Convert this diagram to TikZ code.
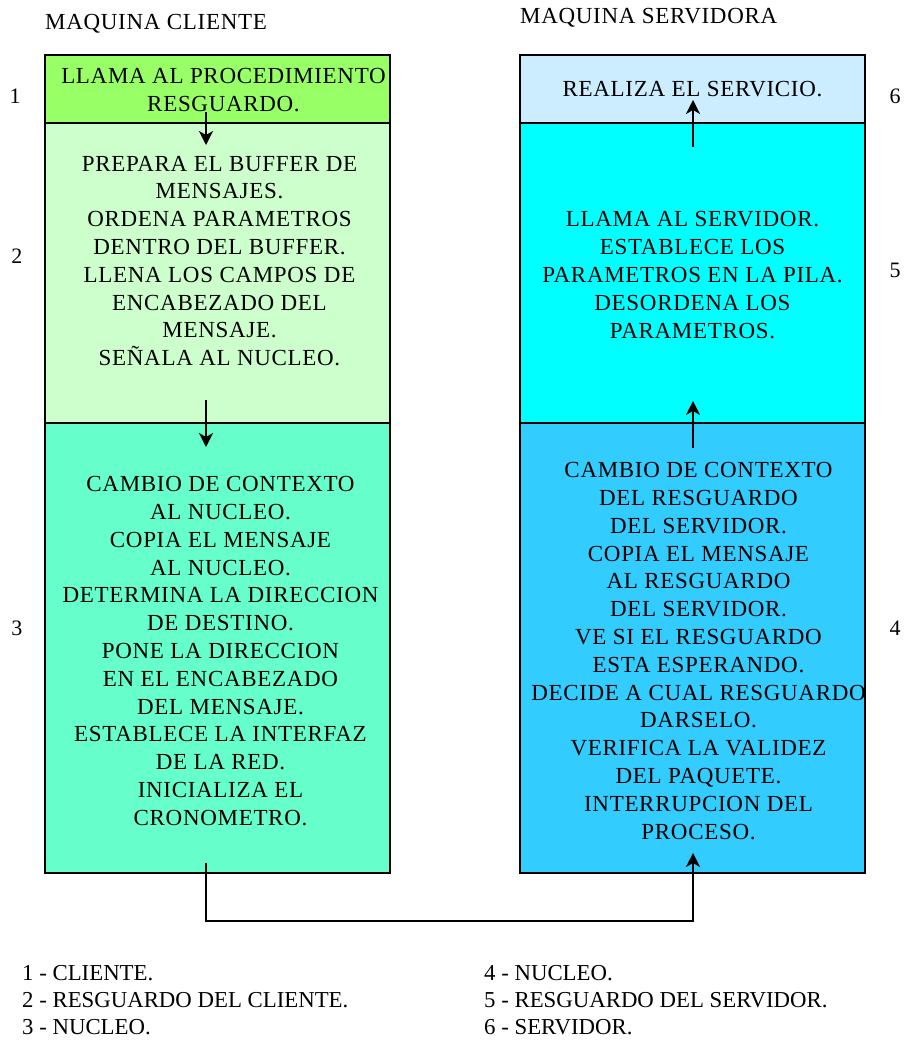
\documentclass[tikz,border=0pt]{standalone}
\usepackage{fontspec}
\setmainfont{Liberation Serif}
\newfontfamily\cajafont{Liberation Serif}[LetterSpace=3]
\usepackage{tikz}
\usetikzlibrary{arrows.meta,calc,positioning}
\usepackage{xcolor}
\definecolor{cliuno}{HTML}{99FF66}
\definecolor{clidos}{HTML}{CCFFCC}
\definecolor{clitres}{HTML}{66FFCC}
\definecolor{sercuatro}{HTML}{33CCFF}
\definecolor{sercinco}{HTML}{00FFFF}
\definecolor{serseis}{HTML}{CCECFF}

\begin{document}
\begin{tikzpicture}[x=1pt,y=-1pt,
  caja/.style={draw,line width=1.6pt,minimum width=345pt,inner sep=0pt,outer sep=0pt},
  texto/.style={align=center,inner sep=0pt,font=\cajafont\fontsize{23}{27.8}\selectfont},
  num/.style={inner sep=0pt,font=\fontsize{22}{27}\selectfont},
  leyenda/.style={inner sep=0pt,anchor=west,align=left,font=\fontsize{22.8}{27}\selectfont},
  flecha/.style={line width=1.4pt,-{Stealth[length=14pt,width=14pt,inset=4pt]}}]
\useasboundingbox (0,0) rectangle (904,1041);
\node[texto,anchor=west] (mcli) at (45,24) {MAQUINA CLIENTE};
\node[texto,anchor=west] (mser) at (520,18) {MAQUINA SERVIDORA};
\node[caja,fill=cliuno,minimum height=68pt] (b1) at (217.5,89) {};
\node[caja,fill=clidos,minimum height=300pt,below=0pt of b1] (b2) {};
\node[caja,fill=clitres,minimum height=450pt,below=0pt of b2] (b3) {};
\node[caja,fill=serseis,minimum height=68pt] (b6) at (692.5,89) {};
\node[caja,fill=sercinco,minimum height=300pt,below=0pt of b6] (b5) {};
\node[caja,fill=sercuatro,minimum height=450pt,below=0pt of b5] (b4) {};
\node[texto] (t1) at ([xshift=6pt,yshift=-1pt]b1.center) {LLAMA AL PROCEDIMIENTO\\RESGUARDO.};
\node[texto] (t2) at ([xshift=2pt,yshift=12pt]b2.center) {PREPARA EL BUFFER DE\\MENSAJES.\\ORDENA PARAMETROS\\DENTRO DEL BUFFER.\\LLENA LOS CAMPOS DE\\ENCABEZADO DEL\\MENSAJE.\\SEÑALA AL NUCLEO.};
\node[texto] (t3) at ([xshift=3pt,yshift=-3pt]b3.center) {CAMBIO DE CONTEXTO\\AL NUCLEO.\\COPIA EL MENSAJE\\AL NUCLEO.\\DETERMINA LA DIRECCION\\DE DESTINO.\\PONE LA DIRECCION\\EN EL ENCABEZADO\\DEL MENSAJE.\\ESTABLECE LA INTERFAZ\\DE LA RED.\\INICIALIZA EL\\CRONOMETRO.};
\node[texto] (t6) at (b6.center) {REALIZA EL SERVICIO.};
\node[texto] (t5) at ([yshift=-2pt]b5.center) {LLAMA AL SERVIDOR.\\ESTABLECE LOS\\PARAMETROS EN LA PILA.\\DESORDENA LOS\\PARAMETROS.};
\node[texto] (t4) at ([xshift=6pt,yshift=-3pt]b4.center) {CAMBIO DE CONTEXTO\\DEL RESGUARDO\\DEL SERVIDOR.\\COPIA EL MENSAJE\\AL RESGUARDO\\DEL SERVIDOR.\\VE SI EL RESGUARDO\\ESTA ESPERANDO.\\DECIDE A CUAL RESGUARDO\\DARSELO.\\VERIFICA LA VALIDEZ\\DEL PAQUETE.\\INTERRUPCION DEL\\PROCESO.};
\node[num] (n1) at (15,96) {1};
\node[num] (n2) at (17,256) {2};
\node[num] (n3) at (17,628) {3};
\node[num] (n6) at (895,96) {6};
\node[num] (n5) at (895,270) {5};
\node[num] (n4) at (895,628) {4};
\coordinate (s12) at ([xshift=-11.5pt,yshift=11pt]b1.south);
\coordinate (e12) at ([xshift=-11.5pt,yshift=-22pt]b1.south);
\coordinate (s23) at ([xshift=-11.5pt,yshift=23pt]b2.south);
\coordinate (e23) at ([xshift=-11.5pt,yshift=-24pt]b2.south);
\coordinate (s34) at ([xshift=-11.5pt,yshift=10pt]b3.south);
\coordinate (e34) at ([xshift=0.5pt,yshift=20pt]b4.south);
\coordinate (s45) at ([xshift=0.5pt,yshift=-25pt]b5.south);
\coordinate (e45) at ([xshift=0.5pt,yshift=22pt]b5.south);
\coordinate (s56) at ([xshift=0.5pt,yshift=-24pt]b6.south);
\coordinate (e56) at ([xshift=0.5pt,yshift=23pt]b6.south);
\draw[flecha] (s12) -- (e12);
\draw[flecha] (s23) -- (e23);
\draw[flecha] (s34) -- ++(0,58) -| (e34);
\draw[flecha] (s45) -- (e45);
\draw[flecha] (s56) -- (e56);
\node[leyenda] (ley1) at (22,1000) {1 - CLIENTE.\\2 - RESGUARDO DEL CLIENTE.\\3 - NUCLEO.};
\node[leyenda] (ley2) at (484,1000) {4 - NUCLEO.\\5 - RESGUARDO DEL SERVIDOR.\\6 - SERVIDOR.};
\end{tikzpicture}
\end{document}
